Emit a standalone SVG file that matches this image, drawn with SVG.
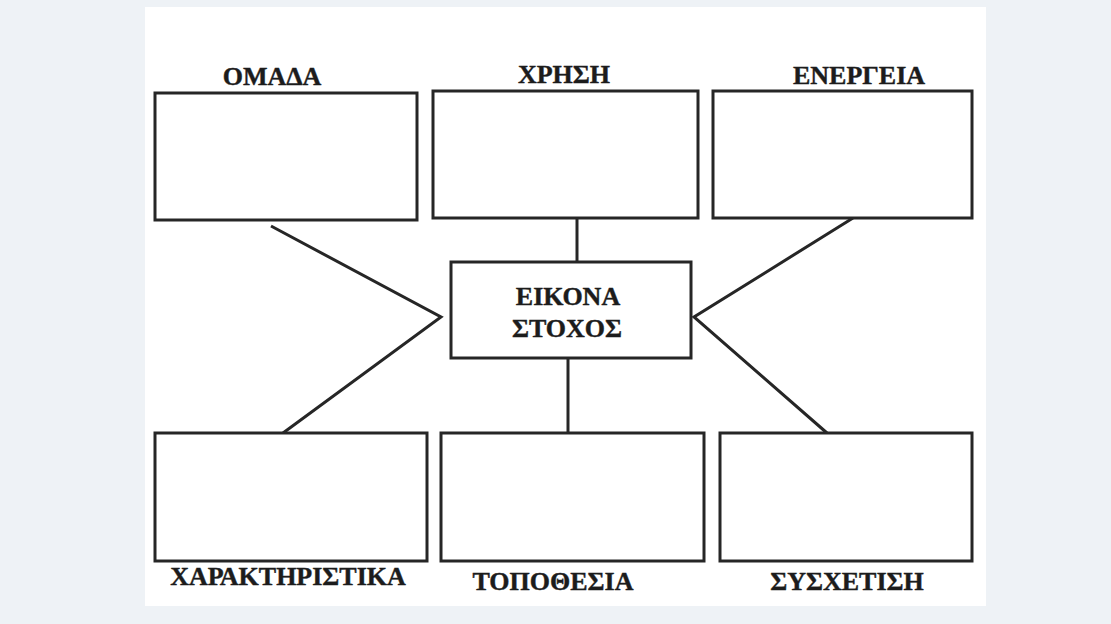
<svg xmlns="http://www.w3.org/2000/svg" width="1111" height="624" viewBox="0 0 1111 624">
<style>
.box{fill:#fff;stroke:#262626;stroke-width:3}
.ln{stroke:#262626;stroke-width:3;fill:none;stroke-linejoin:miter}
.lbl{font-family:"Liberation Serif","DejaVu Serif",serif;font-weight:bold;font-size:26px;fill:#1c1c1c;stroke:#1c1c1c;stroke-width:0.4;text-anchor:middle}
</style>
<rect x="0" y="0" width="1111" height="624" fill="#eef2f6"/>
<rect x="145" y="7" width="841" height="599" fill="#ffffff"/>
<g id="connectors">
<polyline class="ln" points="271,226 441,317 283,433"/>
<polyline class="ln" points="853,218 694,317 827,433"/>
<line class="ln" x1="577" y1="218" x2="577" y2="262"/>
<line class="ln" x1="568" y1="358" x2="568" y2="433"/>
</g>
<g id="omada"><rect class="box" x="155" y="93" width="262" height="127"/><text class="lbl" x="272" y="85">ΟΜΑΔΑ</text></g>
<g id="xrisi"><rect class="box" x="433" y="91" width="265" height="127"/><text class="lbl" x="564" y="83">ΧΡΗΣΗ</text></g>
<g id="energeia"><rect class="box" x="713" y="91" width="259" height="127"/><text class="lbl" x="859" y="84">ΕΝΕΡΓΕΙΑ</text></g>
<g id="eikona"><rect class="box" x="451" y="262" width="240" height="96"/><text class="lbl" x="568" y="305">ΕΙΚΟΝΑ</text><text class="lbl" x="567" y="337">ΣΤΟΧΟΣ</text></g>
<g id="xaraktiristika"><rect class="box" x="155" y="433" width="272" height="128"/><text class="lbl" x="288" y="585">ΧΑΡΑΚΤΗΡΙΣΤΙΚΑ</text></g>
<g id="topothesia"><rect class="box" x="441" y="433" width="263" height="128"/><text class="lbl" x="553" y="590">ΤΟΠΟΘΕΣΙΑ</text></g>
<g id="sysxetisi"><rect class="box" x="720" y="433" width="252" height="128"/><text class="lbl" x="847" y="590">ΣΥΣΧΕΤΙΣΗ</text></g>
</svg>
